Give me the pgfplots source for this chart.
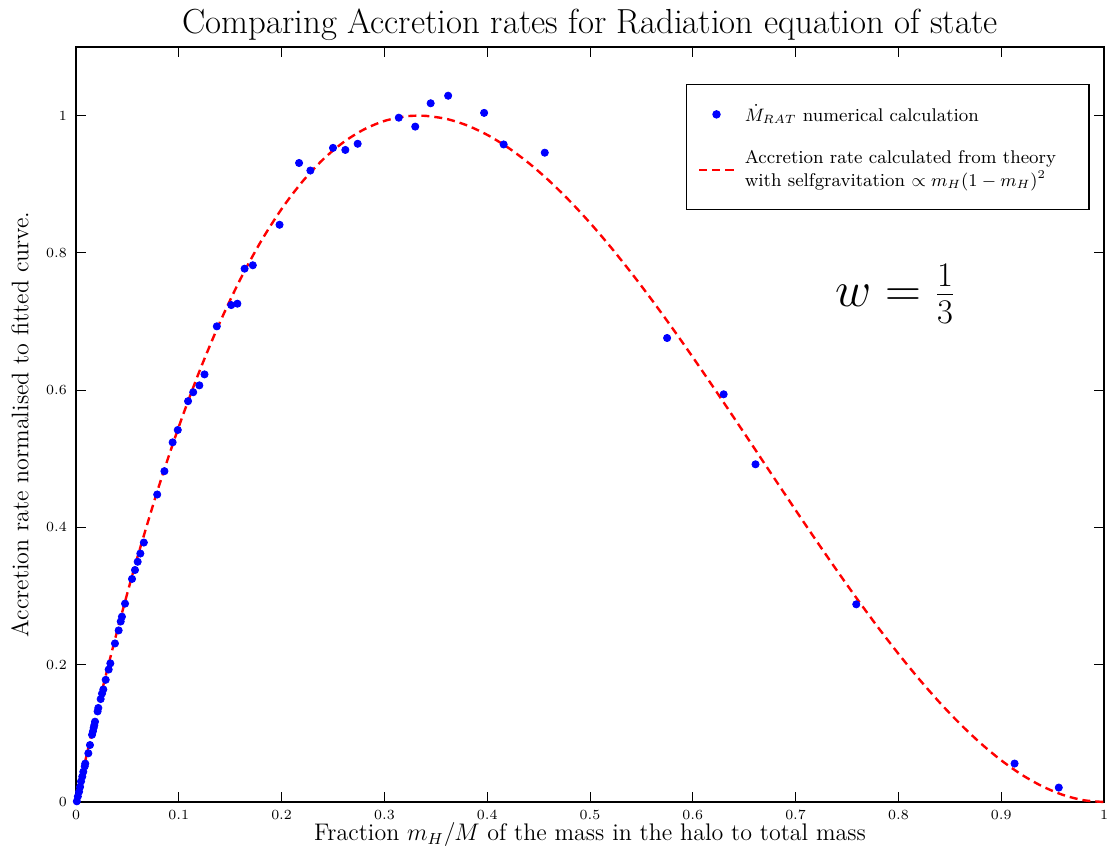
\documentclass[border=0pt]{standalone}
\usepackage{pgfplots}
\pgfplotsset{compat=1.18}
\begin{document}
\begin{tikzpicture}
\begin{axis}[
  name=ax,
  scale only axis,
  width=514pt, height=377.5pt,
  xmin=0, xmax=1, ymin=0, ymax=1.1,
  xtick={0,0.1,...,1.0}, ytick={0,0.2,0.4,0.6,0.8,1},
  tick align=inside,
  major tick length=5pt,
  axis line style={line width=0.8pt},
  every tick/.style={black, line width=0.5pt},
  tick label style={font=\fontsize{6.8}{8}\selectfont},
  xticklabel style={yshift=-0.5pt},
  yticklabel style={xshift=-1pt},
  every axis title shift=0pt,
  title={Comparing Accretion rates for Radiation equation of state},
  title style={font=\fontsize{17.4}{20}\selectfont, at={(axis description cs:0.5,1.029)}, anchor=center},
  xlabel={Fraction $m_H/M$ of the mass in the halo to total mass},
  xlabel style={font=\fontsize{12}{14}\selectfont, at={(axis description cs:0.5,-0.0437)}, anchor=center},
  ylabel={Accretion rate normalised to fitted curve.},
  ylabel style={font=\fontsize{12}{14}\selectfont, at={(axis description cs:-0.0545,0.5)}, anchor=center, rotate=0},
  legend style={at={(0.986,0.951)}, anchor=north east, draw=black, line width=0.6pt,
    font=\fontsize{9.2}{11.5}\selectfont, cells={anchor=west, align=left},
    inner xsep=6pt, inner ysep=8pt, row sep=9pt, column sep=3pt},
  legend cell align=left,
  clip=false,
]
\addplot[only marks, mark=*, mark size=1.8pt, color=blue, mark options={fill=blue, draw=blue}] coordinates {
(0.0008,0.001) (0.0018,0.008) (0.003,0.015) (0.004,0.022) (0.0049,0.030) (0.0061,0.037)
(0.0071,0.044) (0.0085,0.052) (0.009,0.056) (0.012,0.071) (0.0136,0.083) (0.0156,0.098)
(0.0165,0.103) (0.0172,0.108) (0.0178,0.112) (0.0185,0.117) (0.021,0.132) (0.0217,0.137)
(0.024,0.150) (0.0253,0.158) (0.0266,0.164) (0.0289,0.178) (0.0318,0.193) (0.0334,0.202)
(0.0379,0.231) (0.0415,0.250) (0.0435,0.263) (0.0447,0.270) (0.0477,0.289) (0.0545,0.325)
(0.0574,0.338) (0.060,0.350) (0.0626,0.362) (0.066,0.378) (0.079,0.448) (0.086,0.482)
(0.094,0.524) (0.099,0.542) (0.109,0.584) (0.114,0.597) (0.120,0.607) (0.125,0.623)
(0.137,0.693) (0.151,0.724) (0.157,0.726) (0.164,0.777) (0.172,0.782) (0.198,0.841)
(0.217,0.931) (0.228,0.920) (0.250,0.953) (0.262,0.950) (0.274,0.959) (0.314,0.997)
(0.330,0.984) (0.345,1.018) (0.362,1.029) (0.397,1.004) (0.416,0.958) (0.456,0.946)
(0.575,0.676) (0.630,0.594) (0.661,0.492) (0.759,0.288) (0.913,0.056) (0.956,0.021)
};
\addlegendentry{$\dot{M}_{RAT}$ numerical calculation}
\addplot[red, line width=1.2pt, dash pattern=on 4pt off 2.5pt, smooth] coordinates {
(0,0) (0.01,0.06616) (0.02,0.12965) (0.03,0.19053) (0.04,0.24883) (0.05,0.30459)
(0.06,0.35786) (0.08,0.45706) (0.10,0.54675) (0.12,0.62726) (0.14,0.69892) (0.16,0.76205)
(0.18,0.81697) (0.20,0.864) (0.22,0.90347) (0.24,0.93571) (0.26,0.96104) (0.28,0.97978)
(0.30,0.99225) (0.32,0.99878) (0.3333,1.0) (0.34,0.99970) (0.36,0.99533) (0.38,0.98599)
(0.40,0.972) (0.42,0.95369) (0.44,0.93139) (0.46,0.90542) (0.48,0.87610) (0.50,0.84375)
(0.52,0.80870) (0.54,0.77128) (0.56,0.73181) (0.58,0.69061) (0.60,0.648) (0.62,0.60431)
(0.64,0.55987) (0.66,0.51500) (0.68,0.47002) (0.70,0.42525) (0.72,0.38102) (0.74,0.33766)
(0.76,0.29549) (0.78,0.25483) (0.80,0.216) (0.82,0.17933) (0.84,0.14515) (0.86,0.11378)
(0.88,0.08554) (0.90,0.06075) (0.92,0.03974) (0.94,0.02284) (0.96,0.01037) (0.98,0.00265) (1.0,0)
};
\addlegendentry{Accretion rate calculated from theory\\with selfgravitation $\propto m_H(1-m_H)^2$\hbox to 13.5pt{}}
\node[font=\fontsize{23}{28}\selectfont] at (axis cs:0.797,0.74) {$w=\frac{1}{3}$};
\end{axis}
\pgfresetboundingbox
\path[use as bounding box] ([shift={(-38pt,-24pt)}]ax.south west) rectangle ([shift={(1.5pt,23.5pt)}]ax.north east);
\end{tikzpicture}
\end{document}
